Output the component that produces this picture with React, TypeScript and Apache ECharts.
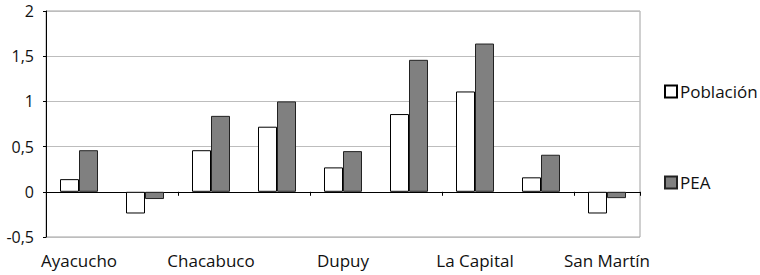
import React, { useEffect, useRef } from "react";
import * as echarts from "echarts";

const categories = [
  "Ayacucho",
  "Belgrano",
  "Chacabuco",
  "Coronel Pringles",
  "Dupuy",
  "Junín",
  "La Capital",
  "Pedernera",
  "San Martín",
];
const poblacion = [0.14, -0.24, 0.46, 0.72, 0.27, 0.86, 1.11, 0.16, -0.24];
const pea = [0.46, -0.08, 0.84, 1.0, 0.45, 1.46, 1.64, 0.41, -0.07];
const seriesNames = ["Población", "PEA"];

const FONT = "'Open Sans', 'Liberation Sans', sans-serif";

export default function App() {
  const ref = useRef<HTMLDivElement>(null);
  useEffect(() => {
    if (!ref.current) return;
    const chart = echarts.init(ref.current, undefined, { renderer: "svg" });
    chart.setOption({
      animation: false,
      backgroundColor: "#ffffff",
      textStyle: { fontFamily: FONT, color: "#111" },
      grid: {
        left: 46,
        right: 120,
        top: 11,
        bottom: 38,
        show: true,
        borderColor: "#a0a0a0",
        borderWidth: 1,
      },
      legend: {
        orient: "vertical",
        left: 659,
        top: 78,
        itemWidth: 12,
        itemHeight: 12,
        itemGap: 74,
        icon: "rect",
        data: seriesNames,
        textStyle: { fontFamily: FONT, fontSize: 17, color: "#111", padding: [0, 0, 0, -2] },
      },
      xAxis: [
        {
          type: "category",
          data: categories,
          axisLine: { onZero: true, lineStyle: { color: "#000", width: 1 } },
          axisTick: { show: true, length: 4, lineStyle: { color: "#000" } },
          axisLabel: { show: false },
          splitLine: { show: false },
        },
        {
          type: "category",
          data: categories,
          position: "bottom",
          axisLine: { show: false, onZero: false },
          axisTick: { show: false },
          axisLabel: {
            interval: 1,
            margin: 15,
            fontSize: 17,
            fontFamily: FONT,
            color: "#111",
          },
        },
      ],
      yAxis: {
        type: "value",
        min: -0.5,
        max: 2,
        interval: 0.5,
        axisLine: { show: true, lineStyle: { color: "#000", width: 1 } },
        axisTick: { show: true, length: 3, lineStyle: { color: "#000" } },
        axisLabel: {
          margin: 12,
          fontSize: 16,
          fontFamily: FONT,
          color: "#111",
          formatter: (v: number) => String(v).replace(".", ","),
        },
        splitLine: { show: true, lineStyle: { color: "#bdbdbd", width: 1 } },
      },
      series: [
        {
          name: seriesNames[0],
          type: "bar",
          data: poblacion,
          barWidth: 19,
          barGap: "0%",
          itemStyle: { color: "#ffffff", borderColor: "#000", borderWidth: 1 },
        },
        {
          name: seriesNames[1],
          type: "bar",
          data: pea,
          barWidth: 19,
          barGap: "0%",
          itemStyle: { color: "#808080", borderColor: "#222", borderWidth: 1 },
        },
      ],
    });
    return () => chart.dispose();
  }, []);
  return (
    <div
      ref={ref}
      style={{ width: 760, height: 275, position: "absolute", left: 0, top: 0 }}
    />
  );
}
